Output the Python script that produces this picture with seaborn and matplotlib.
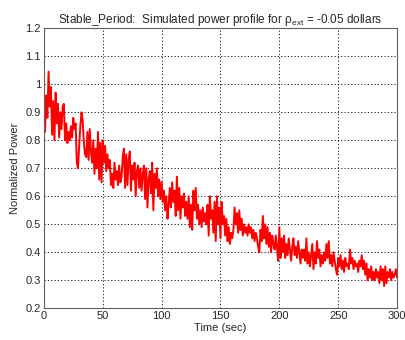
import matplotlib
matplotlib.use("Agg")
import matplotlib.pyplot as plt
import numpy as np
import pandas as pd
import seaborn as sns

# Time axis (sec) and normalized power, 1 s apart
time_sec = list(range(0, 301))
power = [
    0.98, 0.83, 0.96, 0.88, 1.045, 0.92, 0.99, 0.82, 0.94, 0.80,
    0.97, 0.86, 0.93, 0.81, 0.90, 0.84, 0.92, 0.93, 0.80, 0.86,
    0.79, 0.83, 0.80, 0.85, 0.81, 0.88, 0.84, 0.86, 0.72, 0.70,
    0.78, 0.85, 0.90, 0.87, 0.79, 0.75, 0.74, 0.83, 0.73, 0.84,
    0.76, 0.72, 0.80, 0.68, 0.77, 0.70, 0.83, 0.66, 0.79, 0.65,
    0.80, 0.72, 0.78, 0.69, 0.75, 0.70, 0.73, 0.64, 0.68, 0.63,
    0.72, 0.66, 0.69, 0.64, 0.71, 0.65, 0.67, 0.74, 0.77, 0.63,
    0.75, 0.64, 0.73, 0.76, 0.62, 0.71, 0.66, 0.72, 0.60, 0.69,
    0.71, 0.63, 0.70, 0.62, 0.68, 0.71, 0.59, 0.70, 0.56, 0.66,
    0.69, 0.61, 0.72, 0.55, 0.68, 0.63, 0.70, 0.60, 0.66, 0.59,
    0.65, 0.58, 0.62, 0.55, 0.60, 0.52, 0.57, 0.63, 0.56, 0.65,
    0.58, 0.62, 0.53, 0.67, 0.55, 0.63, 0.52, 0.60, 0.56, 0.61,
    0.53, 0.58, 0.52, 0.60, 0.49, 0.57, 0.48, 0.62, 0.55, 0.63,
    0.52, 0.57, 0.50, 0.55, 0.49, 0.56, 0.51, 0.54, 0.50, 0.57,
    0.46, 0.60, 0.52, 0.55, 0.47, 0.58, 0.44, 0.60, 0.50, 0.56,
    0.45, 0.58, 0.50, 0.53, 0.46, 0.52, 0.44, 0.49, 0.43, 0.47,
    0.45, 0.48, 0.56, 0.50, 0.54, 0.47, 0.55, 0.48, 0.52, 0.46,
    0.50, 0.47, 0.49, 0.46, 0.50, 0.47, 0.49, 0.45, 0.48, 0.44,
    0.47, 0.45, 0.42, 0.40, 0.48, 0.44, 0.53, 0.45, 0.50, 0.43,
    0.49, 0.42, 0.47, 0.40, 0.46, 0.43, 0.41, 0.46, 0.42, 0.37,
    0.49, 0.38, 0.45, 0.40, 0.46, 0.38, 0.43, 0.39, 0.45, 0.41,
    0.37, 0.42, 0.45, 0.39, 0.42, 0.38, 0.44, 0.40, 0.36, 0.41,
    0.38, 0.41, 0.37, 0.45, 0.36, 0.40, 0.35, 0.39, 0.43, 0.34,
    0.40, 0.36, 0.44, 0.38, 0.41, 0.35, 0.39, 0.36, 0.40, 0.37,
    0.43, 0.38, 0.44, 0.36, 0.39, 0.35, 0.40, 0.37, 0.34, 0.32,
    0.38, 0.35, 0.39, 0.34, 0.37, 0.33, 0.38, 0.35, 0.36, 0.34,
    0.41, 0.36, 0.38, 0.34, 0.37, 0.35, 0.36, 0.33, 0.37, 0.35,
    0.39, 0.34, 0.37, 0.32, 0.36, 0.30, 0.34, 0.31, 0.35, 0.30,
    0.33, 0.30, 0.34, 0.31, 0.33, 0.29, 0.35, 0.30, 0.34, 0.28,
    0.35, 0.29, 0.33, 0.31, 0.34, 0.30, 0.33, 0.31, 0.32, 0.34,
    0.31,
]

x_ticks = [0, 50, 100, 150, 200, 250, 300]
y_ticks = [0.2, 0.3, 0.4, 0.5, 0.6, 0.7, 0.8, 0.9, 1.0, 1.1, 1.2]
y_labels = ["0.2", "0.3", "0.4", "0.5", "0.6", "0.7", "0.8", "0.9", "1", "1.1", "1.2"]

sns.set_style("white")
plt.rcParams["font.family"] = ["Liberation Sans", "DejaVu Sans"]
plt.rcParams["mathtext.fontset"] = "custom"
plt.rcParams["mathtext.rm"] = "Liberation Sans"

df = pd.DataFrame({"t": time_sec, "p": power})

fig = plt.figure(figsize=(4.06, 3.4), dpi=100)
ax = fig.add_axes([0.108, 0.093, 0.870, 0.824])

sns.lineplot(data=df, x="t", y="p", color="red", linewidth=1.4, ax=ax)

ax.set_xlim(0, 300)
ax.set_ylim(0.2, 1.2)
ax.set_xticks(x_ticks)
ax.set_yticks(y_ticks)
ax.set_yticklabels(y_labels)
ax.tick_params(direction="in", length=3, labelsize=8, colors="#262626",
               width=0.6, pad=2)
ax.grid(True, color="black", linestyle=(0, (1.5, 2.5)), linewidth=0.6)

for s in ax.spines.values():
    s.set_color("#606060")
    s.set_linewidth(0.8)

ax.set_xlabel("Time (sec)", fontsize=8, labelpad=1)
ax.set_ylabel("Normalized Power", fontsize=8, labelpad=4)
# title: subscript drawn a bit larger than mathtext default, like the reference
ax.set_title(r"Stable_Period:  Simulated power profile for ρ$_{\mathregular{ext}}$ = -0.05 dollars",
             fontsize=8.5, pad=4)

fig.savefig("out.png", dpi=100, facecolor="white")
